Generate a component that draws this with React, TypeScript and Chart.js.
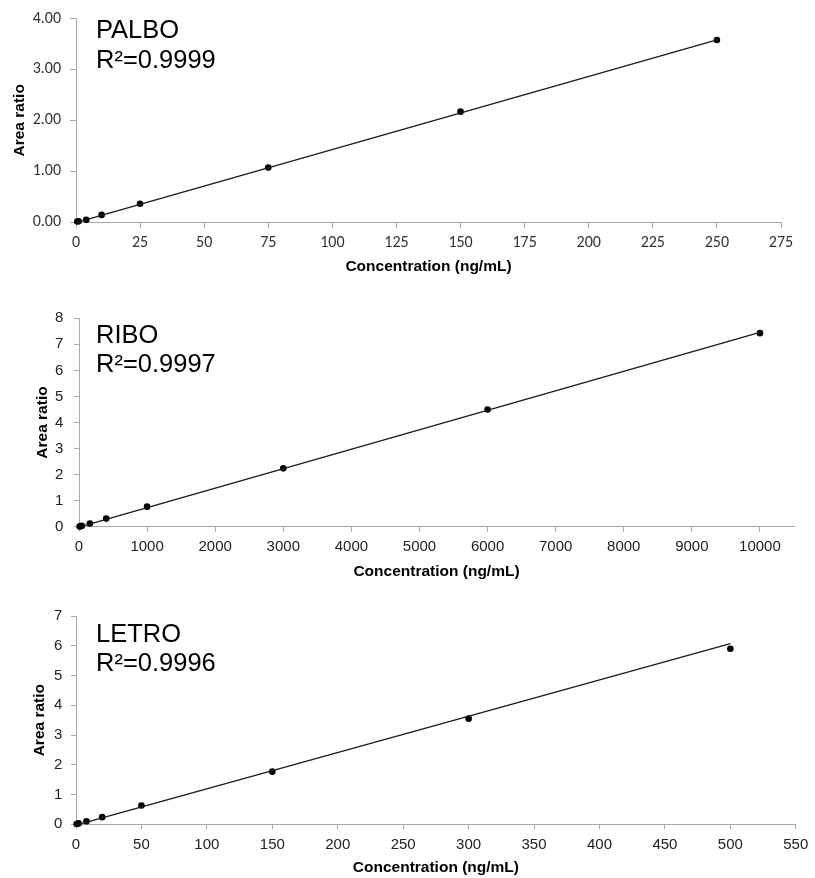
import React, { useEffect, useRef } from "react";
import { Chart, registerables } from "chart.js";

Chart.register(...registerables);

// ---------- data ----------
const palboConc = [0.5, 1, 4, 10, 25, 75, 150, 250];
const palboRatio = [0.01, 0.015, 0.045, 0.14, 0.36, 1.07, 2.17, 3.58];
const palboFitConc = [0, 250];
const palboFitRatio = [-0.01, 3.58];
const palboXTicks = [0, 25, 50, 75, 100, 125, 150, 175, 200, 225, 250, 275];
const palboYTicks = [0, 1, 2, 3, 4];

const riboConc = [10, 20, 40, 160, 400, 1000, 3000, 6000, 10000];
const riboRatio = [0.01, 0.02, 0.03, 0.12, 0.31, 0.77, 2.24, 4.5, 7.43];
const riboFitConc = [0, 10000];
const riboFitRatio = [-0.02, 7.46];
const riboXTicks = [0, 1000, 2000, 3000, 4000, 5000, 6000, 7000, 8000, 9000, 10000];
const riboXMax = 10500;
const riboYTicks = [0, 1, 2, 3, 4, 5, 6, 7, 8];

const letroConc = [0.5, 2, 8, 20, 50, 150, 300, 500];
const letroRatio = [0.01, 0.03, 0.1, 0.24, 0.63, 1.77, 3.55, 5.9];
const letroFitConc = [0, 500];
const letroFitRatio = [-0.03, 6.07];
const letroXTicks = [0, 50, 100, 150, 200, 250, 300, 350, 400, 450, 500, 550];
const letroYTicks = [0, 1, 2, 3, 4, 5, 6, 7];

const xTitle = "Concentration (ng/mL)";
const yTitle = "Area ratio";

// ---------- layout ----------
type Panel = {
  top: number;
  height: number;
  name: string;
  r2: string;
  conc: number[];
  ratio: number[];
  fitConc: number[];
  fitRatio: number[];
  xTicks: number[];
  xMax: number;
  yTicks: number[];
  yDecimals: number;
  tickFont: string;
  tickSize: number;
  tickColor: string;
  pl: number;
  pr: number;
  pt: number;
  pb: number;
  yW: number;
  xH: number;
  xTickPad: number;
  yTickPad: number;
  tl: number;
  textBase1: number;
  textBase2: number;
};

const ARIAL = "'Liberation Sans', Arial, sans-serif";
const AXIS_COLOR = "#a8a8a8";

const panels: Panel[] = [
  {
    top: 0, height: 285, name: "PALBO", r2: "R²=0.9999",
    conc: palboConc, ratio: palboRatio, fitConc: palboFitConc, fitRatio: palboFitRatio,
    xTicks: palboXTicks, xMax: palboXTicks[palboXTicks.length - 1],
    yTicks: palboYTicks, yDecimals: 2,
    tickFont: "Carlito, Lato, sans-serif", tickSize: 16, tickColor: "#333",
    pl: 10.6, pr: 34, pt: 16, pb: 8.7, yW: 65.4, xH: 54.3,
    xTickPad: 5.6, yTickPad: 9, tl: 6,
    textBase1: 38.3, textBase2: 68.3,
  },
  {
    top: 290, height: 295, name: "RIBO", r2: "R²=0.9997",
    conc: riboConc, ratio: riboRatio, fitConc: riboFitConc, fitRatio: riboFitRatio,
    xTicks: riboXTicks, xMax: riboXMax,
    yTicks: riboYTicks, yDecimals: 0,
    tickFont: ARIAL, tickSize: 15, tickColor: "#222",
    pl: 33.7, pr: 21, pt: 28.3, pb: 4, yW: 45.3, xH: 54.3,
    xTickPad: 6, yTickPad: 10.7, tl: 5,
    textBase1: 53.3, textBase2: 81.7,
  },
  {
    top: 590, height: 288, name: "LETRO", r2: "R²=0.9996",
    conc: letroConc, ratio: letroRatio, fitConc: letroFitConc, fitRatio: letroFitRatio,
    xTicks: letroXTicks, xMax: letroXTicks[letroXTicks.length - 1],
    yTicks: letroYTicks, yDecimals: 0,
    tickFont: ARIAL, tickSize: 15, tickColor: "#222",
    pl: 30.7, pr: 14.3, pt: 26, pb: 0.7, yW: 45.3, xH: 53,
    xTickPad: 6.7, yTickPad: 8.7, tl: 5,
    textBase1: 52.3, textBase2: 81,
  },
];

function CalChart({ p }: { p: Panel }) {
  const ref = useRef<HTMLCanvasElement | null>(null);

  useEffect(() => {
    if (!ref.current) return;
    const labelPlugin = {
      id: "labelPlugin",
      afterDraw(chart: any) {
        const ctx = chart.ctx;
        ctx.save();
        ctx.fillStyle = "#000";
        ctx.font = `25.5px ${ARIAL}`;
        ctx.textAlign = "left";
        ctx.textBaseline = "alphabetic";
        ctx.fillText(p.name, 96, p.textBase1);
        ctx.fillText(p.r2, 96, p.textBase2);
        ctx.restore();
      },
    };

    const chart = new Chart(ref.current, {
      type: "scatter",
      data: {
        datasets: [
          {
            label: "fit",
            data: p.fitConc.map((x, i) => ({ x, y: p.fitRatio[i] })),
            showLine: true,
            borderColor: "#1a1a1a",
            borderWidth: 1.3,
            pointRadius: 0,
            clip: false as any,
          },
          {
            label: "data",
            data: p.conc.map((x, i) => ({ x, y: p.ratio[i] })),
            showLine: false,
            backgroundColor: "#000",
            borderColor: "#000",
            pointRadius: 3.3,
            pointBorderWidth: 0,
            clip: false as any,
          },
        ],
      },
      options: {
        animation: false,
        responsive: false,
        maintainAspectRatio: false,
        events: [],
        layout: { padding: { left: p.pl, right: p.pr, top: p.pt, bottom: p.pb } },
        plugins: { legend: { display: false }, tooltip: { enabled: false } },
        scales: {
          x: {
            type: "linear",
            position: "bottom",
            min: p.xTicks[0],
            max: p.xMax,
            afterBuildTicks: (s: any) => {
              s.ticks = p.xTicks.map((v) => ({ value: v }));
            },
            ticks: {
              autoSkip: false,
              maxRotation: 0,
              padding: p.xTickPad,
              color: p.tickColor,
              font: { family: p.tickFont, size: p.tickSize },
              callback: (v: any) => String(v),
            },
            grid: { drawOnChartArea: false, drawTicks: true, tickLength: p.tl, color: AXIS_COLOR },
            border: { color: AXIS_COLOR, width: 1 },
            title: {
              display: true,
              text: xTitle,
              color: "#000",
              padding: 0,
              font: { family: ARIAL, size: 15.5, weight: "bold" },
            },
            afterFit: (s: any) => { s.height = p.xH; },
          },
          y: {
            type: "linear",
            position: "left",
            min: p.yTicks[0],
            max: p.yTicks[p.yTicks.length - 1],
            afterBuildTicks: (s: any) => {
              s.ticks = p.yTicks.map((v) => ({ value: v }));
            },
            ticks: {
              autoSkip: false,
              padding: p.yTickPad,
              color: p.tickColor,
              font: { family: p.tickFont, size: p.tickSize },
              callback: (v: any) => Number(v).toFixed(p.yDecimals),
            },
            grid: { drawOnChartArea: false, drawTicks: true, tickLength: p.tl, color: AXIS_COLOR },
            border: { color: AXIS_COLOR, width: 1 },
            title: {
              display: true,
              text: yTitle,
              color: "#000",
              padding: 0,
              font: { family: ARIAL, size: 15.5, weight: "bold" },
            },
            afterFit: (s: any) => { s.width = p.yW; },
          },
        },
      } as any,
      plugins: [labelPlugin],
    });
    return () => chart.destroy();
  }, [p]);

  return (
    <canvas
      ref={ref}
      width={815}
      height={p.height}
      style={{ position: "absolute", left: 0, top: p.top, width: 815, height: p.height }}
    />
  );
}

export default function App() {
  return (
    <div
      style={{
        position: "absolute",
        left: 0,
        top: 0,
        width: 815,
        height: 878,
        overflow: "hidden",
        background: "#fff",
      }}
    >
      {panels.map((p) => (
        <CalChart key={p.name} p={p} />
      ))}
    </div>
  );
}
